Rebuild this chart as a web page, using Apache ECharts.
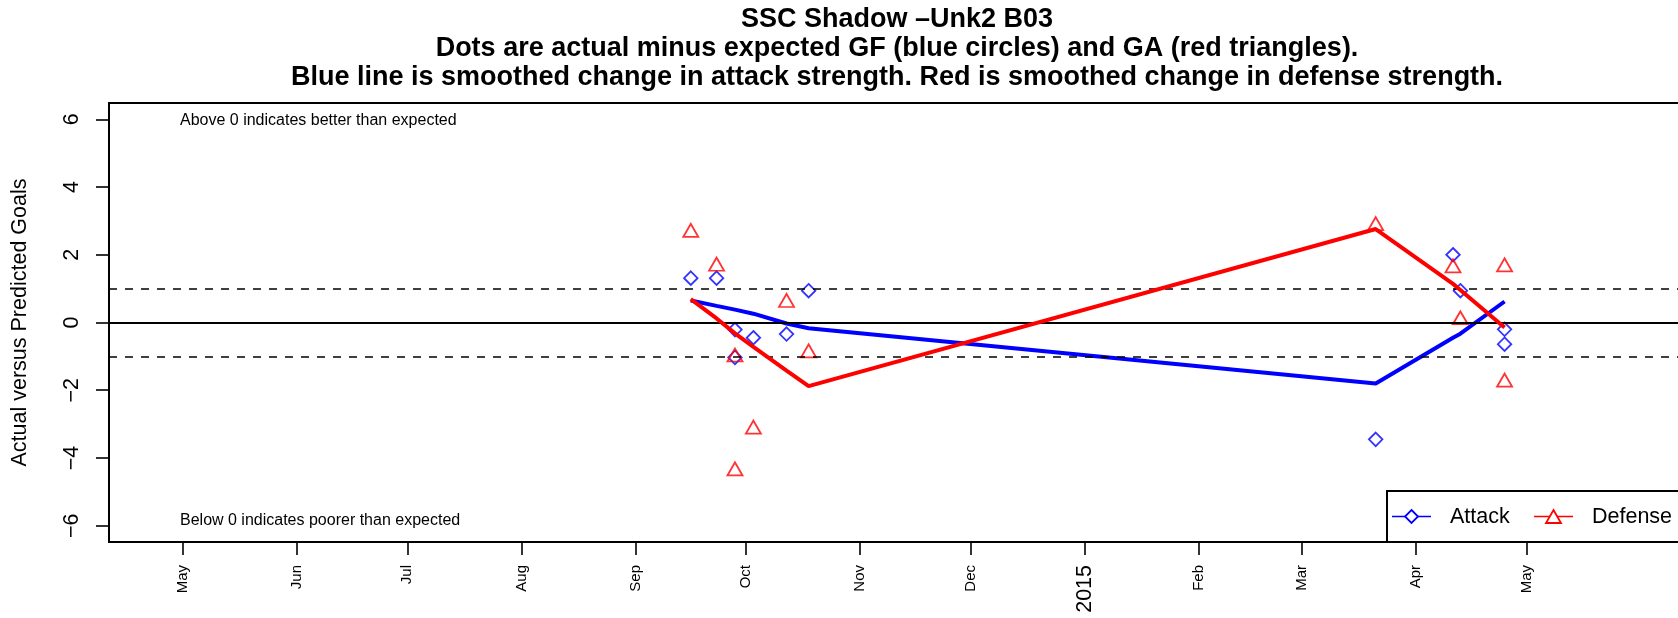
<!DOCTYPE html>
<html><head><meta charset="utf-8">
<script src="https://cdn.jsdelivr.net/npm/echarts@6/dist/echarts.min.js"></script>
<style>html,body{margin:0;padding:0;background:#fff}#c{width:1678px;height:618px}</style>
</head><body><div id="c"></div>
<script>
// ---- data ----
const gameDates = ['2014-09-16','2014-09-23','2014-09-28','2014-09-28','2014-10-03','2014-10-12','2014-10-18','2015-03-21','2015-04-11','2015-04-13','2015-04-25','2015-04-25'];
const attackDiff = [1.31, 1.31, -0.21, -1.03, -0.45, -0.34, 0.94, -3.45, 2.00, 0.94, -0.20, -0.64];
const defenseDiff = [2.72, 1.72, -0.96, -4.32, -3.09, 0.65, -0.84, 2.92, 1.67, 0.14, 1.70, -1.70];
const smoothDates = ['2014-09-16','2014-09-23','2014-09-28','2014-10-03','2014-10-12','2014-10-18','2015-03-21','2015-04-11','2015-04-13','2015-04-25'];
const attackSmooth = [0.65, 0.49, 0.38, 0.26, -0.03, -0.17, -1.80, -0.45, -0.33, 0.62];
const defenseSmooth = [0.69, 0.12, -0.32, -0.72, -1.42, -1.88, 2.76, 1.14, 0.96, -0.15];
const monthTicks = ['2014-05-01','2014-06-01','2014-07-01','2014-08-01','2014-09-01','2014-10-01','2014-11-01','2014-12-01','2015-01-01','2015-02-01','2015-03-01','2015-04-01','2015-05-01'];
const monthLabels = ['May','Jun','Jul','Aug','Sep','Oct','Nov','Dec','2015','Feb','Mar','Apr','May'];
const yTicks = [-6, -4, -2, 0, 2, 4, 6];
const xRange = ['2014-04-11', '2015-06-13'];
const yRange = [-6.48, 6.48];
const dashedLevels = [-1, 1];
const solidLevels = [0];

// dates -> day number (days since 1970-01-01, UTC) so the x axis is a plain numeric scale
function dn(s) { const p = s.split('-').map(Number); return Date.UTC(p[0], p[1] - 1, p[2]) / 86400000; }
const tickDays = monthTicks.map(dn);
const FONT = '"Liberation Sans", Arial, Helvetica, sans-serif';

const chart = echarts.init(document.getElementById('c'), null, {renderer: 'canvas'});
const option = {
  animation: false,
  backgroundColor: '#fff',
  title: {
    text: 'SSC Shadow \u2013Unk2 B03\nDots are actual minus expected GF (blue circles) and GA (red triangles).\nBlue line is smoothed change in attack strength. Red is smoothed change in defense strength.',
    left: 897, textAlign: 'center', top: 5, padding: 0,
    textStyle: {fontFamily: FONT, fontSize: 27, fontWeight: 'bold', lineHeight: 29, color: '#000'}
  },
  grid: {left: 109, top: 103, right: -7, bottom: 76, show: true, borderColor: '#000', borderWidth: 2, backgroundColor: 'transparent', outerBoundsMode: 'none'},
  xAxis: {
    type: 'value', min: dn(xRange[0]), max: dn(xRange[1]),
    axisLine: {show: false, onZero: false}, splitLine: {show: false},
    axisTick: {show: true, customValues: tickDays, length: 13, lineStyle: {color: '#000', width: 1.6}},
    axisLabel: {
      customValues: tickDays, rotate: 90, margin: 23, color: '#000', fontFamily: FONT, fontSize: 15,
      formatter: function (v) {
        let best = 0;
        tickDays.forEach((t, k) => { if (Math.abs(t - v) < Math.abs(tickDays[best] - v)) best = k; });
        const l = monthLabels[best];
        return /^\d{4}$/.test(l) ? '{y|' + l + '}' : l;
      },
      rich: {y: {fontSize: 21.5, fontFamily: FONT, color: '#000'}}
    }
  },
  yAxis: {
    type: 'value', min: yRange[0], max: yRange[1],
    name: 'Actual versus Predicted Goals', nameLocation: 'middle', nameRotate: 90, nameGap: 78,
    nameTextStyle: {fontFamily: FONT, fontSize: 21.5, color: '#000'},
    axisLine: {show: false, onZero: false}, splitLine: {show: false},
    axisTick: {show: true, customValues: yTicks, length: 13, lineStyle: {color: '#000', width: 1.6}},
    axisLabel: {customValues: yTicks, rotate: 90, margin: 26, color: '#000', fontFamily: FONT, fontSize: 21.5,
      formatter: v => (v < 0 ? '\u2212' + Math.abs(v) : String(v))}
  },
  series: [
    {
      name: 'refs', type: 'line', data: [], silent: true,
      markLine: {
        silent: true, symbol: ['none', 'none'], label: {show: false}, animation: false,
        data: solidLevels.map(v => ({yAxis: v, lineStyle: {color: '#000', width: 1.8, type: 'solid'}}))
          .concat(dashedLevels.map(v => ({yAxis: v, lineStyle: {color: '#000', width: 1.6, type: [8, 8]}})))
      }
    },
    {
      name: 'Attack', type: 'scatter', symbol: 'diamond', symbolSize: 13.5, z: 3,
      itemStyle: {color: 'rgba(255,255,255,0)', borderColor: '#0000ff', borderWidth: 1.8},
      data: gameDates.map((d, i) => [dn(d), attackDiff[i]])
    },
    {
      name: 'Defense', type: 'scatter', symbol: 'triangle', symbolSize: [15, 13], z: 3,
      itemStyle: {color: 'rgba(255,255,255,0)', borderColor: '#ff0000', borderWidth: 1.8},
      data: gameDates.map((d, i) => [dn(d), defenseDiff[i]])
    },
    {
      name: 'Attack smooth', type: 'line', showSymbol: false, symbol: 'none', z: 4,
      lineStyle: {color: '#0000ff', width: 4}, data: smoothDates.map((d, i) => [dn(d), attackSmooth[i]])
    },
    {
      name: 'Defense smooth', type: 'line', showSymbol: false, symbol: 'none', z: 5,
      lineStyle: {color: '#ff0000', width: 4}, data: smoothDates.map((d, i) => [dn(d), defenseSmooth[i]])
    }
  ],
  graphic: [
    {type: 'text', z: 10, style: {text: 'Above 0 indicates better than expected', x: 180, y: 121, font: '16px ' + FONT, fill: '#000', align: 'left', verticalAlign: 'middle'}},
    {type: 'text', z: 10, style: {text: 'Below 0 indicates poorer than expected', x: 180, y: 521, font: '16px ' + FONT, fill: '#000', align: 'left', verticalAlign: 'middle'}},
    {type: 'rect', z: 10, shape: {x: 1387, y: 491, width: 310, height: 51}, style: {fill: '#fff', stroke: '#000', lineWidth: 2}},
    {type: 'line', z: 11, shape: {x1: 1392, y1: 516.5, x2: 1431, y2: 516.5}, style: {stroke: '#0000ff', lineWidth: 1.6}},
    {type: 'polygon', z: 12, shape: {points: [[1411.5, 510], [1418, 516.5], [1411.5, 523], [1405, 516.5]]}, style: {fill: '#fff', stroke: '#0000ff', lineWidth: 1.8}},
    {type: 'text', z: 11, style: {text: 'Attack', x: 1450, y: 517, font: '21.5px ' + FONT, fill: '#000', align: 'left', verticalAlign: 'middle'}},
    {type: 'line', z: 11, shape: {x1: 1534, y1: 516.5, x2: 1573, y2: 516.5}, style: {stroke: '#ff0000', lineWidth: 1.6}},
    {type: 'polygon', z: 12, shape: {points: [[1553.5, 510], [1561, 523], [1546, 523]]}, style: {fill: '#fff', stroke: '#ff0000', lineWidth: 1.8}},
    {type: 'text', z: 11, style: {text: 'Defense', x: 1592, y: 517, font: '21.5px ' + FONT, fill: '#000', align: 'left', verticalAlign: 'middle'}}
  ]
};
chart.setOption(option);
</script></body></html>
